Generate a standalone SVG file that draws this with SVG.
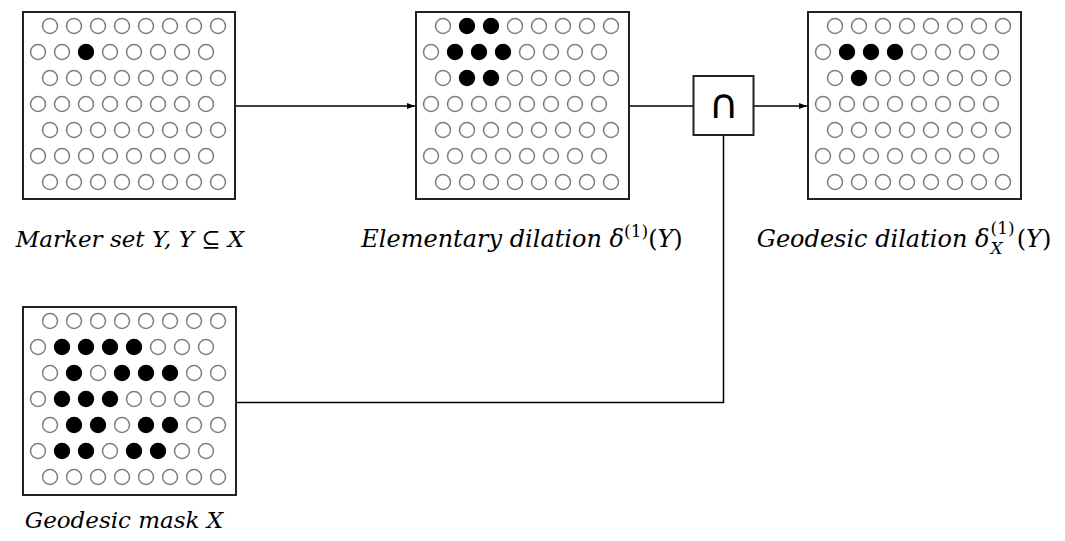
<svg xmlns="http://www.w3.org/2000/svg" width="1065" height="541" viewBox="0 0 1065 541">
<style>
.box{fill:#fff;stroke:#222;stroke-width:2}
.o{fill:none;stroke:#7f7f7f;stroke-width:1.5}
.f{fill:#000}
.wire{fill:none;stroke:#000;stroke-width:1.5}
.lbl{font-family:"DejaVu Serif","Liberation Serif",serif;font-style:italic;font-size:23px;fill:#000}
.big{font-size:24px}
.sm{font-size:17px}
.up{font-style:normal}
.op{font-family:"DejaVu Sans","Liberation Sans",sans-serif;font-size:41px;fill:#000}
</style>
<defs>
<marker id="ah" markerWidth="8" markerHeight="6" refX="8" refY="3" orient="auto" markerUnits="userSpaceOnUse">
<path d="M0,0 L8,3 L0,6 Z" fill="#000"/>
</marker>
</defs>
<g id="connectors">
<line class="wire" x1="236" y1="106" x2="415" y2="106" marker-end="url(#ah)"/>
<line class="wire" x1="629" y1="106" x2="693" y2="106"/>
<line class="wire" x1="754" y1="106" x2="807" y2="106" marker-end="url(#ah)"/>
<polyline class="wire" points="723.5,135 723.5,402.5 236,402.5"/>
</g>
<g id="marker-set">
<rect class="box" x="23" y="12" width="212" height="187"/>
<circle class="o" cx="50" cy="26" r="7.5"/><circle class="o" cx="74" cy="26" r="7.5"/><circle class="o" cx="98" cy="26" r="7.5"/><circle class="o" cx="122" cy="26" r="7.5"/><circle class="o" cx="146" cy="26" r="7.5"/><circle class="o" cx="170" cy="26" r="7.5"/><circle class="o" cx="194" cy="26" r="7.5"/><circle class="o" cx="218" cy="26" r="7.5"/>
<circle class="o" cx="38" cy="52" r="7.5"/><circle class="o" cx="62" cy="52" r="7.5"/><circle class="f" cx="86" cy="52" r="8.2"/><circle class="o" cx="110" cy="52" r="7.5"/><circle class="o" cx="134" cy="52" r="7.5"/><circle class="o" cx="158" cy="52" r="7.5"/><circle class="o" cx="182" cy="52" r="7.5"/><circle class="o" cx="206" cy="52" r="7.5"/>
<circle class="o" cx="50" cy="78" r="7.5"/><circle class="o" cx="74" cy="78" r="7.5"/><circle class="o" cx="98" cy="78" r="7.5"/><circle class="o" cx="122" cy="78" r="7.5"/><circle class="o" cx="146" cy="78" r="7.5"/><circle class="o" cx="170" cy="78" r="7.5"/><circle class="o" cx="194" cy="78" r="7.5"/><circle class="o" cx="218" cy="78" r="7.5"/>
<circle class="o" cx="38" cy="104" r="7.5"/><circle class="o" cx="62" cy="104" r="7.5"/><circle class="o" cx="86" cy="104" r="7.5"/><circle class="o" cx="110" cy="104" r="7.5"/><circle class="o" cx="134" cy="104" r="7.5"/><circle class="o" cx="158" cy="104" r="7.5"/><circle class="o" cx="182" cy="104" r="7.5"/><circle class="o" cx="206" cy="104" r="7.5"/>
<circle class="o" cx="50" cy="130" r="7.5"/><circle class="o" cx="74" cy="130" r="7.5"/><circle class="o" cx="98" cy="130" r="7.5"/><circle class="o" cx="122" cy="130" r="7.5"/><circle class="o" cx="146" cy="130" r="7.5"/><circle class="o" cx="170" cy="130" r="7.5"/><circle class="o" cx="194" cy="130" r="7.5"/><circle class="o" cx="218" cy="130" r="7.5"/>
<circle class="o" cx="38" cy="156" r="7.5"/><circle class="o" cx="62" cy="156" r="7.5"/><circle class="o" cx="86" cy="156" r="7.5"/><circle class="o" cx="110" cy="156" r="7.5"/><circle class="o" cx="134" cy="156" r="7.5"/><circle class="o" cx="158" cy="156" r="7.5"/><circle class="o" cx="182" cy="156" r="7.5"/><circle class="o" cx="206" cy="156" r="7.5"/>
<circle class="o" cx="50" cy="182" r="7.5"/><circle class="o" cx="74" cy="182" r="7.5"/><circle class="o" cx="98" cy="182" r="7.5"/><circle class="o" cx="122" cy="182" r="7.5"/><circle class="o" cx="146" cy="182" r="7.5"/><circle class="o" cx="170" cy="182" r="7.5"/><circle class="o" cx="194" cy="182" r="7.5"/><circle class="o" cx="218" cy="182" r="7.5"/>
<text class="lbl" x="130" y="247" text-anchor="middle">Marker set Y, Y <tspan class="up">⊆</tspan> X</text>
</g>
<g id="elementary-dilation">
<rect class="box" x="416" y="12" width="213" height="187"/>
<circle class="o" cx="443" cy="26" r="7.5"/><circle class="f" cx="467" cy="26" r="8.2"/><circle class="f" cx="491" cy="26" r="8.2"/><circle class="o" cx="515" cy="26" r="7.5"/><circle class="o" cx="539" cy="26" r="7.5"/><circle class="o" cx="563" cy="26" r="7.5"/><circle class="o" cx="587" cy="26" r="7.5"/><circle class="o" cx="611" cy="26" r="7.5"/>
<circle class="o" cx="431" cy="52" r="7.5"/><circle class="f" cx="455" cy="52" r="8.2"/><circle class="f" cx="479" cy="52" r="8.2"/><circle class="f" cx="503" cy="52" r="8.2"/><circle class="o" cx="527" cy="52" r="7.5"/><circle class="o" cx="551" cy="52" r="7.5"/><circle class="o" cx="575" cy="52" r="7.5"/><circle class="o" cx="599" cy="52" r="7.5"/>
<circle class="o" cx="443" cy="78" r="7.5"/><circle class="f" cx="467" cy="78" r="8.2"/><circle class="f" cx="491" cy="78" r="8.2"/><circle class="o" cx="515" cy="78" r="7.5"/><circle class="o" cx="539" cy="78" r="7.5"/><circle class="o" cx="563" cy="78" r="7.5"/><circle class="o" cx="587" cy="78" r="7.5"/><circle class="o" cx="611" cy="78" r="7.5"/>
<circle class="o" cx="431" cy="104" r="7.5"/><circle class="o" cx="455" cy="104" r="7.5"/><circle class="o" cx="479" cy="104" r="7.5"/><circle class="o" cx="503" cy="104" r="7.5"/><circle class="o" cx="527" cy="104" r="7.5"/><circle class="o" cx="551" cy="104" r="7.5"/><circle class="o" cx="575" cy="104" r="7.5"/><circle class="o" cx="599" cy="104" r="7.5"/>
<circle class="o" cx="443" cy="130" r="7.5"/><circle class="o" cx="467" cy="130" r="7.5"/><circle class="o" cx="491" cy="130" r="7.5"/><circle class="o" cx="515" cy="130" r="7.5"/><circle class="o" cx="539" cy="130" r="7.5"/><circle class="o" cx="563" cy="130" r="7.5"/><circle class="o" cx="587" cy="130" r="7.5"/><circle class="o" cx="611" cy="130" r="7.5"/>
<circle class="o" cx="431" cy="156" r="7.5"/><circle class="o" cx="455" cy="156" r="7.5"/><circle class="o" cx="479" cy="156" r="7.5"/><circle class="o" cx="503" cy="156" r="7.5"/><circle class="o" cx="527" cy="156" r="7.5"/><circle class="o" cx="551" cy="156" r="7.5"/><circle class="o" cx="575" cy="156" r="7.5"/><circle class="o" cx="599" cy="156" r="7.5"/>
<circle class="o" cx="443" cy="182" r="7.5"/><circle class="o" cx="467" cy="182" r="7.5"/><circle class="o" cx="491" cy="182" r="7.5"/><circle class="o" cx="515" cy="182" r="7.5"/><circle class="o" cx="539" cy="182" r="7.5"/><circle class="o" cx="563" cy="182" r="7.5"/><circle class="o" cx="587" cy="182" r="7.5"/><circle class="o" cx="611" cy="182" r="7.5"/>
<text class="lbl big" x="522" y="247" text-anchor="middle">Elementary dilation δ<tspan class="sm up" dy="-10">(1)</tspan><tspan class="up" dy="10">(</tspan>Y<tspan class="up">)</tspan></text>
</g>
<g id="intersection">
<rect class="box" x="693.5" y="76" width="60" height="59"/>
<text class="op" x="723.5" y="118" text-anchor="middle">∩</text>
</g>
<g id="geodesic-dilation">
<rect class="box" x="808" y="12" width="213" height="187"/>
<circle class="o" cx="835" cy="26" r="7.5"/><circle class="o" cx="859" cy="26" r="7.5"/><circle class="o" cx="883" cy="26" r="7.5"/><circle class="o" cx="907" cy="26" r="7.5"/><circle class="o" cx="931" cy="26" r="7.5"/><circle class="o" cx="955" cy="26" r="7.5"/><circle class="o" cx="979" cy="26" r="7.5"/><circle class="o" cx="1003" cy="26" r="7.5"/>
<circle class="o" cx="823" cy="52" r="7.5"/><circle class="f" cx="847" cy="52" r="8.2"/><circle class="f" cx="871" cy="52" r="8.2"/><circle class="f" cx="895" cy="52" r="8.2"/><circle class="o" cx="919" cy="52" r="7.5"/><circle class="o" cx="943" cy="52" r="7.5"/><circle class="o" cx="967" cy="52" r="7.5"/><circle class="o" cx="991" cy="52" r="7.5"/>
<circle class="o" cx="835" cy="78" r="7.5"/><circle class="f" cx="859" cy="78" r="8.2"/><circle class="o" cx="883" cy="78" r="7.5"/><circle class="o" cx="907" cy="78" r="7.5"/><circle class="o" cx="931" cy="78" r="7.5"/><circle class="o" cx="955" cy="78" r="7.5"/><circle class="o" cx="979" cy="78" r="7.5"/><circle class="o" cx="1003" cy="78" r="7.5"/>
<circle class="o" cx="823" cy="104" r="7.5"/><circle class="o" cx="847" cy="104" r="7.5"/><circle class="o" cx="871" cy="104" r="7.5"/><circle class="o" cx="895" cy="104" r="7.5"/><circle class="o" cx="919" cy="104" r="7.5"/><circle class="o" cx="943" cy="104" r="7.5"/><circle class="o" cx="967" cy="104" r="7.5"/><circle class="o" cx="991" cy="104" r="7.5"/>
<circle class="o" cx="835" cy="130" r="7.5"/><circle class="o" cx="859" cy="130" r="7.5"/><circle class="o" cx="883" cy="130" r="7.5"/><circle class="o" cx="907" cy="130" r="7.5"/><circle class="o" cx="931" cy="130" r="7.5"/><circle class="o" cx="955" cy="130" r="7.5"/><circle class="o" cx="979" cy="130" r="7.5"/><circle class="o" cx="1003" cy="130" r="7.5"/>
<circle class="o" cx="823" cy="156" r="7.5"/><circle class="o" cx="847" cy="156" r="7.5"/><circle class="o" cx="871" cy="156" r="7.5"/><circle class="o" cx="895" cy="156" r="7.5"/><circle class="o" cx="919" cy="156" r="7.5"/><circle class="o" cx="943" cy="156" r="7.5"/><circle class="o" cx="967" cy="156" r="7.5"/><circle class="o" cx="991" cy="156" r="7.5"/>
<circle class="o" cx="835" cy="182" r="7.5"/><circle class="o" cx="859" cy="182" r="7.5"/><circle class="o" cx="883" cy="182" r="7.5"/><circle class="o" cx="907" cy="182" r="7.5"/><circle class="o" cx="931" cy="182" r="7.5"/><circle class="o" cx="955" cy="182" r="7.5"/><circle class="o" cx="979" cy="182" r="7.5"/><circle class="o" cx="1003" cy="182" r="7.5"/>
<text class="lbl big" x="904" y="247" text-anchor="middle">Geodesic dilation δ<tspan class="sm" dx="1" dy="7">X</tspan><tspan class="sm up" dx="-12" dy="-20">(1)</tspan><tspan class="up" dx="2" dy="13">(</tspan>Y<tspan class="up">)</tspan></text>
</g>
<g id="geodesic-mask">
<rect class="box" x="23" y="307" width="213" height="188"/>
<circle class="o" cx="50" cy="321" r="7.5"/><circle class="o" cx="74" cy="321" r="7.5"/><circle class="o" cx="98" cy="321" r="7.5"/><circle class="o" cx="122" cy="321" r="7.5"/><circle class="o" cx="146" cy="321" r="7.5"/><circle class="o" cx="170" cy="321" r="7.5"/><circle class="o" cx="194" cy="321" r="7.5"/><circle class="o" cx="218" cy="321" r="7.5"/>
<circle class="o" cx="38" cy="347" r="7.5"/><circle class="f" cx="62" cy="347" r="8.2"/><circle class="f" cx="86" cy="347" r="8.2"/><circle class="f" cx="110" cy="347" r="8.2"/><circle class="f" cx="134" cy="347" r="8.2"/><circle class="o" cx="158" cy="347" r="7.5"/><circle class="o" cx="182" cy="347" r="7.5"/><circle class="o" cx="206" cy="347" r="7.5"/>
<circle class="o" cx="50" cy="373" r="7.5"/><circle class="f" cx="74" cy="373" r="8.2"/><circle class="o" cx="98" cy="373" r="7.5"/><circle class="f" cx="122" cy="373" r="8.2"/><circle class="f" cx="146" cy="373" r="8.2"/><circle class="f" cx="170" cy="373" r="8.2"/><circle class="o" cx="194" cy="373" r="7.5"/><circle class="o" cx="218" cy="373" r="7.5"/>
<circle class="o" cx="38" cy="399" r="7.5"/><circle class="f" cx="62" cy="399" r="8.2"/><circle class="f" cx="86" cy="399" r="8.2"/><circle class="f" cx="110" cy="399" r="8.2"/><circle class="o" cx="134" cy="399" r="7.5"/><circle class="o" cx="158" cy="399" r="7.5"/><circle class="o" cx="182" cy="399" r="7.5"/><circle class="o" cx="206" cy="399" r="7.5"/>
<circle class="o" cx="50" cy="425" r="7.5"/><circle class="f" cx="74" cy="425" r="8.2"/><circle class="f" cx="98" cy="425" r="8.2"/><circle class="o" cx="122" cy="425" r="7.5"/><circle class="f" cx="146" cy="425" r="8.2"/><circle class="f" cx="170" cy="425" r="8.2"/><circle class="o" cx="194" cy="425" r="7.5"/><circle class="o" cx="218" cy="425" r="7.5"/>
<circle class="o" cx="38" cy="451" r="7.5"/><circle class="f" cx="62" cy="451" r="8.2"/><circle class="f" cx="86" cy="451" r="8.2"/><circle class="o" cx="110" cy="451" r="7.5"/><circle class="f" cx="134" cy="451" r="8.2"/><circle class="f" cx="158" cy="451" r="8.2"/><circle class="o" cx="182" cy="451" r="7.5"/><circle class="o" cx="206" cy="451" r="7.5"/>
<circle class="o" cx="50" cy="477" r="7.5"/><circle class="o" cx="74" cy="477" r="7.5"/><circle class="o" cx="98" cy="477" r="7.5"/><circle class="o" cx="122" cy="477" r="7.5"/><circle class="o" cx="146" cy="477" r="7.5"/><circle class="o" cx="170" cy="477" r="7.5"/><circle class="o" cx="194" cy="477" r="7.5"/><circle class="o" cx="218" cy="477" r="7.5"/>
<text class="lbl" x="124" y="528" text-anchor="middle">Geodesic mask X</text>
</g>
</svg>
